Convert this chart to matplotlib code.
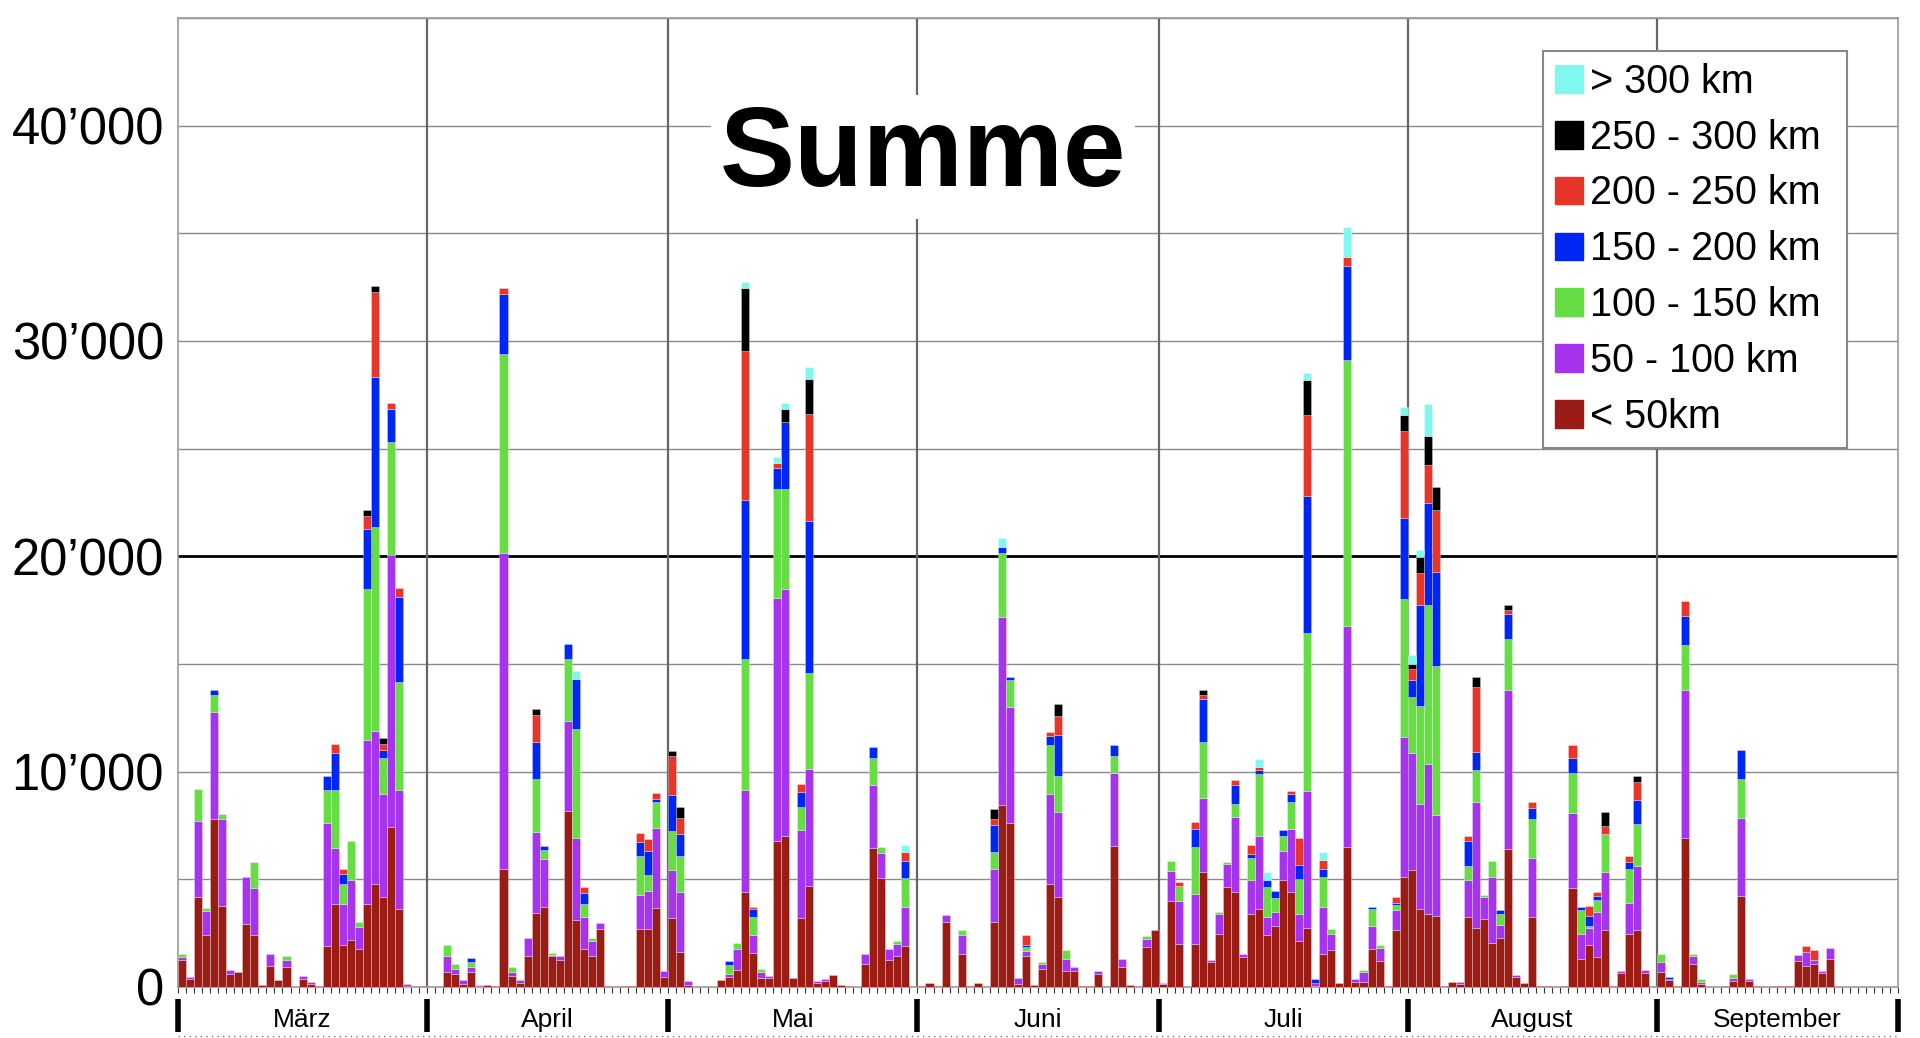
import numpy as np
import matplotlib
matplotlib.use("Agg")
import matplotlib.pyplot as plt
from matplotlib.patches import Patch
from matplotlib.lines import Line2D
import matplotlib.transforms as mtransforms

plt.rcParams['font.family'] = ['Liberation Sans', 'DejaVu Sans']

# ---------------- data ----------------
months = ["März", "April", "Mai", "Juni", "Juli", "August", "September"]
month_days = [31, 30, 31, 30, 31, 31, 30]
categories = ["< 50km", "50 - 100 km", "100 - 150 km", "150 - 200 km",
              "200 - 250 km", "250 - 300 km", "> 300 km"]
colors = ["#9B1C14", "#A633EE", "#66DD44", "#0026F5", "#E8352A", "#000000", "#80F8F0"]
ytick_values = [0, 10000, 20000, 30000, 40000]
ytick_labels = ["0", "10’000", "20’000", "30’000", "40’000"]
title = "Summe"

# daily values per month (Mar..Sep)
km_lt50 = [
    [1250, 380, 4200, 2430, 7800, 3750, 590, 675, 2925, 2430, 90, 990, 315, 945, 0, 380, 135, 50, 1890, 3870,
     1960, 2180, 1755, 3870, 4770, 4185, 7425, 3600, 50, 0, 60],
    [0, 0, 675, 585, 135, 675, 50, 90, 45, 5490, 500, 180, 1440, 3420, 3735, 1440, 1260, 8190, 3105, 1755,
     1440, 2700, 45, 0, 30, 45, 2700, 2700, 3690, 450],
    [3195, 1620, 90, 0, 0, 0, 315, 450, 810, 4410, 1575, 405, 405, 6795, 7020, 405, 3195, 4680, 180, 270,
     540, 90, 45, 0, 1080, 6435, 5040, 1260, 1440, 1890, 0],
    [45, 180, 45, 3015, 0, 1530, 45, 180, 0, 3015, 8460, 7605, 135, 1440, 90, 855, 4770, 4200, 755, 755,
     30, 30, 614, 0, 6560, 944, 90, 0, 1840, 2640],
    [140, 4010, 1980, 0, 1980, 5330, 1180, 2450, 4640, 4390, 1410, 3390, 3640, 2400, 2820, 4970, 4430, 2150, 2730, 60,
     1530, 1700, 170, 6500, 250, 250, 1780, 1200, 40, 2650, 5130],
    [5420, 3600, 3390, 3310, 40, 210, 120, 3230, 2730, 3150, 2030, 2280, 6420, 455, 170, 3230, 60, 30, 0, 40,
     4580, 1300, 1950, 1390, 2630, 30, 650, 2480, 2630, 650, 15],
    [710, 310, 60, 6940, 1050, 120, 15, 15, 60, 280, 4210, 280, 60, 0, 30, 30, 30, 1210, 960, 1050,
     650, 1300, 0, 0, 0, 0, 0, 0, 0, 0],
]
km_50_100 = [
    [150, 100, 3500, 1080, 4950, 4030, 180, 0, 2200, 2160, 0, 540, 0, 315, 0, 140, 115, 0, 5710, 2590,
     1910, 2770, 1035, 7600, 7110, 4770, 12645, 5535, 85, 0, 0],
    [0, 0, 765, 270, 180, 270, 40, 0, 0, 14670, 175, 135, 855, 3780, 2205, 60, 180, 4140, 3825, 1485,
     675, 270, 0, 0, 0, 0, 1575, 1755, 3690, 315],
    [2250, 2790, 180, 0, 0, 0, 0, 135, 945, 4725, 855, 270, 95, 11250, 11475, 0, 4095, 5445, 90, 90,
     0, 0, 0, 0, 450, 2925, 1170, 495, 540, 1845, 0],
    [0, 0, 0, 315, 0, 900, 0, 0, 0, 2475, 8730, 5395, 270, 225, 0, 225, 4200, 3920, 565, 190,
     0, 0, 140, 0, 3400, 376, 0, 0, 380, 0],
    [50, 1370, 2030, 0, 2360, 3450, 90, 950, 1070, 3510, 120, 1580, 3360, 830, 660, 1360, 2900, 1240, 6380, 140,
     2200, 780, 0, 10270, 120, 450, 1040, 620, 0, 910, 6460],
    [5430, 4890, 6960, 4680, 0, 0, 90, 1740, 5880, 1030, 3060, 620, 7370, 125, 0, 2770, 0, 0, 0, 0,
     3500, 1180, 810, 2080, 2700, 0, 90, 1420, 3000, 120, 0],
    [440, 60, 0, 6870, 410, 100, 0, 0, 0, 150, 3620, 90, 0, 0, 0, 0, 0, 280, 680, 220,
     90, 530, 0, 0, 0, 0, 0, 0, 0, 0],
]
km_100_150 = [
    [150, 0, 1500, 180, 800, 270, 0, 0, 0, 1215, 0, 0, 0, 180, 0, 0, 0, 0, 1535, 2675,
     900, 1850, 225, 7000, 9500, 1665, 5220, 5040, 0, 0, 0],
    [0, 0, 495, 225, 0, 225, 0, 0, 0, 9225, 270, 45, 0, 2475, 405, 75, 0, 2925, 5040, 630,
     180, 0, 0, 0, 0, 0, 1800, 765, 1215, 0],
    [1800, 1665, 0, 0, 0, 0, 0, 450, 270, 6120, 810, 180, 0, 5085, 4635, 0, 1080, 4455, 0, 0,
     0, 0, 0, 0, 0, 1260, 270, 0, 135, 1305, 0],
    [0, 0, 0, 0, 0, 225, 0, 0, 0, 765, 2970, 1265, 0, 180, 0, 90, 2260, 1700, 380, 0,
     0, 0, 0, 0, 750, 0, 0, 0, 140, 0],
    [0, 470, 660, 0, 2170, 2595, 0, 90, 90, 590, 0, 1030, 2900, 1410, 660, 670, 1280, 1620, 7330, 0,
     1400, 210, 0, 12330, 0, 90, 780, 130, 0, 250, 6410],
    [2610, 4550, 7370, 6910, 0, 0, 0, 660, 1450, 80, 750, 490, 2360, 0, 0, 1820, 0, 0, 0, 0,
     1850, 1080, 90, 590, 1760, 0, 0, 1580, 1960, 0, 0],
    [400, 0, 0, 2070, 90, 150, 0, 0, 0, 190, 1830, 0, 0, 0, 0, 0, 0, 0, 0, 0,
     0, 0, 0, 0, 0, 0, 0, 0, 0, 0],
]
km_150_200 = [
    [0, 0, 0, 0, 230, 0, 0, 0, 0, 0, 0, 0, 0, 0, 0, 0, 0, 0, 675, 1755,
     495, 0, 0, 2790, 6930, 405, 1575, 3915, 0, 0, 0],
    [0, 0, 0, 0, 0, 180, 0, 0, 0, 2790, 0, 0, 0, 1710, 225, 0, 0, 675, 2340, 495,
     0, 0, 0, 0, 0, 0, 675, 1080, 135, 0],
    [1665, 1035, 0, 0, 0, 0, 0, 180, 0, 7380, 360, 0, 0, 990, 3105, 0, 675, 7065, 0, 0,
     0, 0, 0, 0, 0, 540, 0, 0, 0, 810, 0],
    [0, 0, 0, 0, 0, 0, 0, 0, 0, 1260, 270, 135, 0, 90, 0, 0, 430, 1880, 0, 0,
     0, 0, 0, 0, 520, 0, 0, 0, 0, 0],
    [0, 0, 0, 0, 850, 1985, 0, 0, 0, 910, 0, 170, 160, 330, 330, 290, 330, 660, 6370, 170,
     330, 0, 0, 4370, 0, 0, 130, 0, 0, 80, 3780],
    [780, 4680, 4760, 4390, 0, 0, 0, 1160, 870, 0, 0, 170, 1160, 0, 0, 500, 0, 0, 0, 0,
     700, 160, 460, 150, 0, 0, 0, 310, 1080, 0, 0],
    [0, 90, 0, 1330, 0, 0, 0, 0, 0, 0, 1360, 0, 0, 0, 0, 0, 0, 0, 0, 0,
     0, 0, 0, 0, 0, 0, 0, 0, 0, 0],
]
km_200_250 = [
    [0, 0, 0, 0, 0, 0, 0, 0, 0, 0, 0, 0, 0, 0, 0, 0, 0, 0, 0, 410,
     225, 0, 0, 630, 3960, 270, 270, 450, 0, 0, 0],
    [0, 0, 0, 0, 0, 0, 0, 0, 0, 270, 0, 0, 0, 1260, 0, 0, 0, 0, 0, 270,
     0, 0, 0, 0, 0, 0, 405, 585, 270, 0],
    [1800, 720, 0, 0, 0, 0, 0, 0, 0, 6885, 135, 0, 0, 225, 0, 0, 405, 4950, 0, 0,
     0, 0, 0, 0, 0, 0, 0, 0, 0, 405, 0],
    [0, 0, 0, 0, 0, 0, 0, 0, 0, 270, 0, 0, 0, 495, 0, 0, 190, 900, 0, 0,
     0, 0, 0, 0, 0, 0, 0, 0, 0, 0],
    [0, 0, 190, 0, 290, 190, 0, 0, 0, 200, 0, 410, 170, 0, 0, 0, 170, 1240, 3770, 0,
     460, 0, 0, 430, 0, 0, 0, 0, 0, 290, 4050],
    [540, 1490, 1780, 2860, 0, 0, 0, 210, 2980, 0, 0, 0, 200, 0, 0, 250, 0, 0, 0, 0,
     630, 0, 440, 220, 400, 0, 0, 310, 830, 0, 0],
    [0, 0, 0, 720, 0, 0, 0, 0, 0, 0, 0, 0, 0, 0, 0, 0, 0, 0, 280, 460,
     0, 0, 0, 0, 0, 0, 0, 0, 0, 0],
]
km_250_300 = [
    [0, 0, 0, 0, 0, 0, 0, 0, 0, 0, 0, 0, 0, 0, 0, 0, 0, 0, 0, 0,
     0, 0, 0, 270, 270, 270, 0, 0, 0, 0, 0],
    [0, 0, 0, 0, 0, 0, 0, 0, 0, 0, 0, 0, 0, 270, 0, 0, 0, 0, 0, 0,
     0, 0, 0, 0, 0, 0, 0, 0, 0, 0],
    [270, 540, 0, 0, 0, 0, 0, 0, 0, 2925, 0, 0, 0, 0, 585, 0, 0, 1620, 0, 0,
     0, 0, 0, 0, 0, 0, 0, 0, 0, 0, 0],
    [0, 0, 0, 0, 0, 0, 0, 0, 0, 495, 0, 0, 0, 0, 0, 0, 0, 520, 0, 0,
     0, 0, 0, 0, 0, 0, 0, 0, 0, 0],
    [0, 0, 0, 0, 0, 230, 0, 0, 0, 0, 0, 0, 0, 0, 0, 0, 0, 0, 1610, 0,
     0, 0, 0, 0, 0, 0, 0, 0, 0, 0, 750],
    [210, 740, 1330, 1080, 0, 0, 0, 0, 500, 0, 0, 0, 210, 0, 0, 0, 0, 0, 0, 0,
     0, 0, 0, 0, 620, 0, 0, 0, 280, 0, 0],
    [0, 0, 0, 0, 0, 0, 0, 0, 0, 0, 0, 0, 0, 0, 0, 0, 0, 0, 0, 0,
     0, 0, 0, 0, 0, 0, 0, 0, 0, 0],
]
km_gt300 = [
    [0, 0, 0, 0, 0, 0, 0, 0, 0, 0, 0, 0, 0, 0, 0, 0, 0, 0, 0, 0,
     0, 0, 0, 0, 0, 0, 0, 0, 0, 0, 0],
    [0, 0, 0, 0, 0, 0, 0, 0, 0, 0, 0, 0, 0, 0, 0, 0, 0, 0, 360, 0,
     0, 0, 0, 0, 0, 0, 0, 0, 0, 0],
    [0, 0, 0, 0, 0, 0, 0, 0, 0, 315, 0, 0, 0, 270, 315, 0, 0, 585, 0, 0,
     0, 0, 0, 0, 0, 0, 0, 0, 0, 360, 0],
    [0, 0, 0, 0, 0, 0, 0, 0, 0, 0, 405, 0, 0, 0, 0, 0, 0, 0, 0, 0,
     0, 0, 0, 0, 0, 0, 0, 0, 0, 0],
    [0, 0, 0, 0, 0, 0, 0, 0, 0, 0, 0, 0, 370, 370, 0, 0, 0, 0, 330, 0,
     330, 0, 0, 1400, 0, 0, 0, 0, 0, 0, 370],
    [410, 340, 1490, 0, 0, 0, 0, 0, 0, 0, 0, 0, 0, 0, 0, 0, 0, 0, 0, 0,
     0, 0, 0, 0, 0, 0, 0, 0, 0, 0, 0],
    [0, 0, 0, 0, 0, 0, 0, 0, 0, 0, 0, 0, 0, 0, 0, 0, 0, 0, 0, 0,
     0, 0, 0, 0, 0, 0, 0, 0, 0, 0],
]


def flat(per_month):
    return np.array([v for m in per_month for v in m], dtype=float)


series = [flat(s) for s in (km_lt50, km_50_100, km_100_150, km_150_200,
                            km_200_250, km_250_300, km_gt300)]

n_days = sum(month_days)
x = np.arange(n_days) + 0.5
bounds = np.concatenate([[0], np.cumsum(month_days)])

# ---------------- figure ----------------
W, H = 1920, 1038
fig = plt.figure(figsize=(W / 100, H / 100), dpi=100)
ax = fig.add_axes([178 / W, 51 / H, 1720 / W, 969 / H])

bottom = np.zeros(n_days)
for vals, col in zip(series, colors):
    m = vals > 0
    ax.bar(x[m], vals[m], width=1.0, bottom=bottom[m], color=col,
           edgecolor=(1, 1, 1, 0.4), linewidth=0.5, zorder=3)
    bottom += vals

ax.set_xlim(0, n_days)
ax.set_ylim(0, 45000)

# grid
for yv in range(5000, 45001, 5000):
    if yv == 20000:
        ax.axhline(yv, color="black", lw=2.0, zorder=1)
    else:
        ax.axhline(yv, color="#8a8a8a", lw=1.0, zorder=1)
for b in bounds[1:-1]:
    ax.axvline(b, color="#666666", lw=1.6, zorder=1)

for s in ax.spines.values():
    s.set_color("#999999")
    s.set_linewidth(1.2)

ax.set_yticks(ytick_values)
ax.set_yticklabels(ytick_labels)
ax.tick_params(axis="y", length=0, pad=10, labelsize=36.5)

ax.set_xticks([])
ax.set_xticks(np.arange(0, n_days + 1), minor=True)
ax.tick_params(axis="x", which="minor", length=4, width=0.8, color="#333333")

trans = mtransforms.blended_transform_factory(ax.transData, ax.transAxes)
for b in bounds:
    ax.plot([b, b], [-0.012, -0.046], transform=trans, color="black", lw=4,
            clip_on=False, solid_capstyle="butt")
for i, name in enumerate(months):
    c = (bounds[i] + bounds[i + 1]) / 2
    ax.text(c, -0.034, name, transform=trans, ha="center", va="center", fontsize=19)

fig.add_artist(Line2D([178 / W, 1900 / W], [2.5 / H, 2.5 / H], transform=fig.transFigure,
                      ls=(0, (1, 3)), color="#777777", lw=1))

# title
ax.text(0.433, 0.857, title, transform=ax.transAxes, ha="center", va="center",
        fontsize=81, fontweight="bold", zorder=5,
        bbox=dict(facecolor="white", edgecolor="none", boxstyle="square,pad=0.08"))

# legend (top to bottom: > 300 ... < 50)
handles = [Patch(facecolor=c, edgecolor=c) for c in colors][::-1]
labels = categories[::-1]
leg = ax.legend(handles, labels, loc="upper left", mode="expand",
                bbox_to_anchor=(0.7936, 0.5, 0.1767, 0.466),
                fontsize=28.5, frameon=True, fancybox=False, framealpha=1,
                edgecolor="#888888", handlelength=0.7, handleheight=0.7,
                handletextpad=0.2, labelspacing=0.45, borderpad=0.3, borderaxespad=0)
leg.get_frame().set_linewidth(1.5)
leg.set_zorder(6)

fig.savefig("out.png", dpi=100)
